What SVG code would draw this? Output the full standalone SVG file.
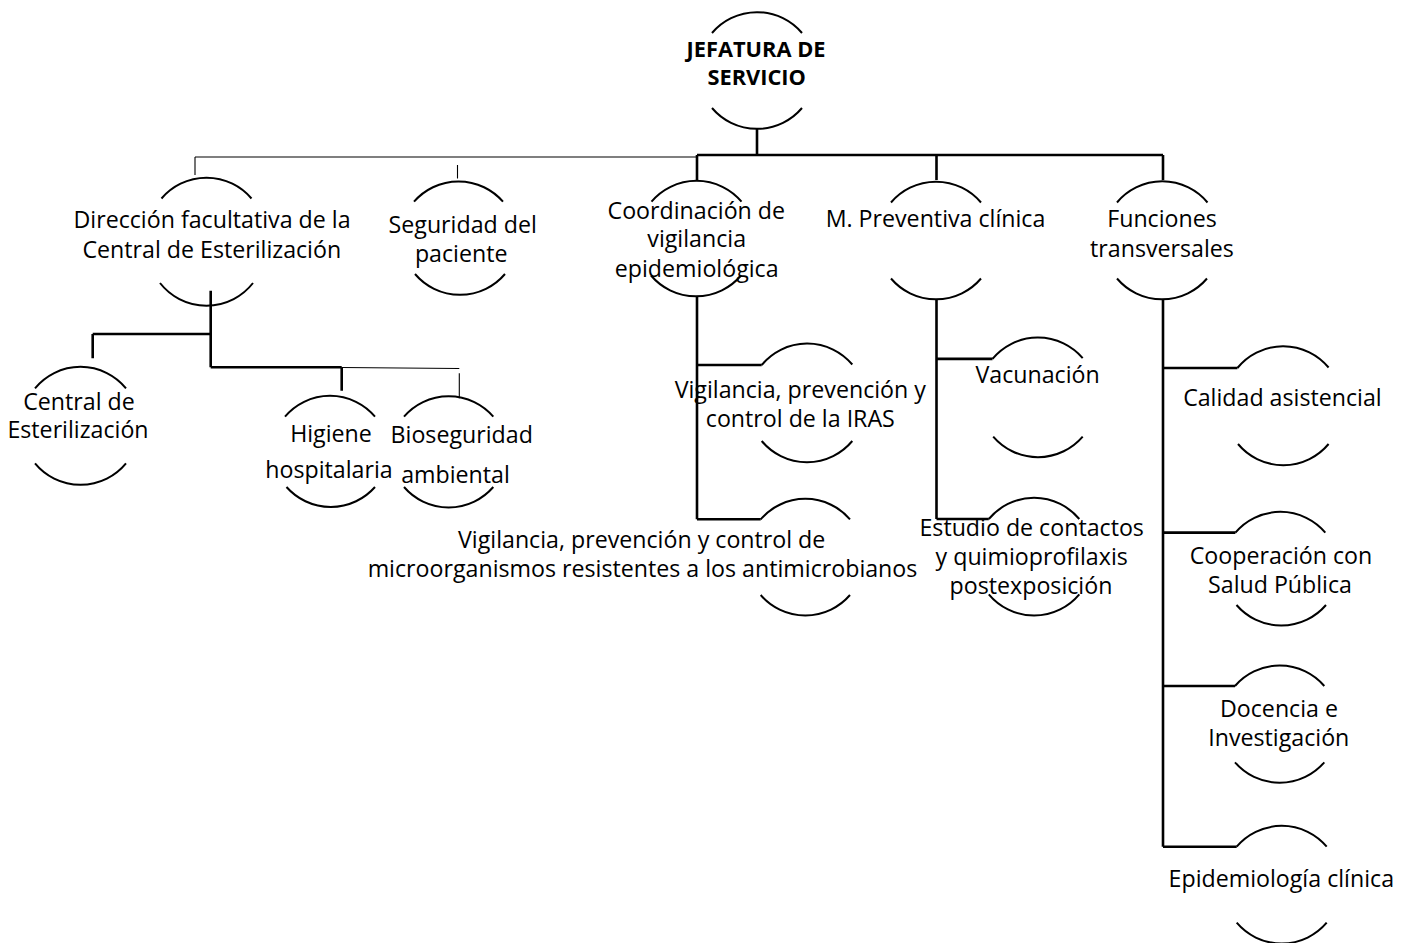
<svg xmlns="http://www.w3.org/2000/svg" width="1411" height="943" viewBox="0 0 1411 943">
<style>
  .arc { fill: none; stroke: #000; stroke-width: 2; }
  .thick { fill: none; stroke: #000; stroke-width: 2.6; }
  .thin { fill: none; stroke: #000; stroke-width: 1.1; }
  text { font-family: "Open Sans", "Noto Sans", "Liberation Sans", sans-serif; font-size: 23.2px; fill: #000; text-anchor: middle; }
  .bold { font-weight: bold; font-size: 21.8px; }
</style>
<rect width="1411" height="943" fill="#fff"/>
<g id="connectors">
  <path class="thick" d="M757 128 V155 M697 155 H1163 M697 155 V180 M936.5 155 V180 M1163 155 V180"/>
  <path class="thin" d="M195 157 H697 M195 157 V175 M457.5 165 V178.5"/>
  <path class="thick" d="M210.7 290.7 V367.3 M92.7 334 H210.7 M92.7 334 V358.3 M210.7 367.3 H341.7 M341.7 367.3 V390.7"/>
  <path class="thin" d="M341.7 367.5 L459.3 368.5 M459.3 373.3 V398.3"/>
  <path class="thick" d="M697 297 V519.3 M697 365 H761.7 M697 519.3 H760.7"/>
  <path class="thick" d="M936.5 299.5 V519 M936.5 358.9 H992.5 M936.5 519 H988.8"/>
  <path class="thick" d="M1163 299.5 V846.7 M1163 368 H1237.4 M1163 532.6 H1235.4 M1163 686 H1235 M1163 846.7 H1236.7"/>
</g>
<g id="n-jefatura">
  <path class="arc" d="M712 33 A59 59 0 0 1 802 33 M712 108 A59 59 0 0 0 802 108"/>
  <text class="bold" x="756" y="56.7">JEFATURA DE</text>
  <text class="bold" x="756.7" y="85">SERVICIO</text>
</g>
<g id="n-direccion">
  <path class="arc" d="M161.5 198.5 A59 59 0 0 1 251.5 198.5 M160 283 A59 59 0 0 0 253 283"/>
  <text x="212" y="228">Dirección facultativa de la</text>
  <text x="211.8" y="258.3">Central de Esterilización</text>
</g>
<g id="n-seguridad">
  <path class="arc" d="M414 201.7 A59 59 0 0 1 503 201.7 M415 274 A59 59 0 0 0 505 274"/>
  <text x="462.7" y="233.3">Seguridad del</text>
  <text x="461.2" y="261.7">paciente</text>
</g>
<g id="n-coordinacion">
  <path class="arc" d="M651.5 201.7 A59 59 0 0 1 741.5 201.7 M651 275.5 A59 59 0 0 0 741 275.5"/>
  <text x="696.3" y="219">Coordinación de</text>
  <text x="696.7" y="247.3">vigilancia</text>
  <text x="696.7" y="276.7">epidemiológica</text>
</g>
<g id="n-mpreventiva">
  <path class="arc" d="M891 202.5 A59 59 0 0 1 981 202.5 M891 278.5 A59 59 0 0 0 981 278.5"/>
  <text x="935.5" y="227.2">M. Preventiva clínica</text>
</g>
<g id="n-funciones">
  <path class="arc" d="M1117 202.5 A59 59 0 0 1 1207.5 202.5 M1117 278.5 A59 59 0 0 0 1207 278.5"/>
  <text x="1162" y="227.2">Funciones</text>
  <text x="1162" y="256.6">transversales</text>
</g>
<g id="n-central">
  <path class="arc" d="M35 388.3 A59 59 0 0 1 126 388.3 M35 463.3 A59 59 0 0 0 126 463.3"/>
  <text x="79" y="410">Central de</text>
  <text x="78" y="438.3">Esterilización</text>
</g>
<g id="n-higiene">
  <path class="arc" d="M285 416.7 A59 59 0 0 1 375 416.7 M286.5 487 A59 59 0 0 0 375 487"/>
  <text x="331" y="441.7">Higiene</text>
  <text x="329" y="478.3">hospitalaria</text>
</g>
<g id="n-bioseguridad">
  <path class="arc" d="M404 416.7 A59 59 0 0 1 493.3 416.7 M404 487 A59 59 0 0 0 493.3 487"/>
  <text x="461.7" y="442.7">Bioseguridad</text>
  <text x="455.5" y="483.3">ambiental</text>
</g>
<g id="n-iras">
  <path class="arc" d="M761.7 365 A59 59 0 0 1 852.3 364.5 M761.7 441 A59 59 0 0 0 852.3 441"/>
  <text x="800.3" y="398.3">Vigilancia, prevención y</text>
  <text x="800.3" y="426.7">control de la IRAS</text>
</g>
<g id="n-antimicrobianos">
  <path class="arc" d="M760.7 519.3 A59 59 0 0 1 850 519.3 M760.7 595 A59 59 0 0 0 850 595"/>
  <text x="641.7" y="548.3">Vigilancia, prevención y control de</text>
  <text x="642.5" y="576.7">microorganismos resistentes a los antimicrobianos</text>
</g>
<g id="n-vacunacion">
  <path class="arc" d="M992.5 358.9 A59 59 0 0 1 1082.7 358.2 M993.2 436.6 A59 59 0 0 0 1082.7 436.6"/>
  <text x="1037.6" y="382.6">Vacunación</text>
</g>
<g id="n-estudio">
  <path class="arc" d="M988.8 519 A59 59 0 0 1 1079.3 519 M988.8 594.4 A59 59 0 0 0 1079.3 594.4"/>
  <text x="1031.7" y="536">Estudio de contactos</text>
  <text x="1031.7" y="565">y quimioprofilaxis</text>
  <text x="1031" y="594.4">postexposición</text>
</g>
<g id="n-calidad">
  <path class="arc" d="M1237.4 368 A59 59 0 0 1 1328.6 367.5 M1238 444 A59 59 0 0 0 1328.6 444"/>
  <text x="1282.4" y="406.2">Calidad asistencial</text>
</g>
<g id="n-cooperacion">
  <path class="arc" d="M1235.4 532.6 A59 59 0 0 1 1325.3 532.6 M1236.5 605 A59 59 0 0 0 1326 605"/>
  <text x="1281" y="564.3">Cooperación con</text>
  <text x="1280" y="593">Salud Pública</text>
</g>
<g id="n-docencia">
  <path class="arc" d="M1235 686 A59 59 0 0 1 1324.3 686 M1235 762.3 A59 59 0 0 0 1324.3 762.3"/>
  <text x="1279" y="717.3">Docencia e</text>
  <text x="1278.8" y="745.7">Investigación</text>
</g>
<g id="n-epidemiologia">
  <path class="arc" d="M1236.7 846.7 A59 59 0 0 1 1326.7 846.7 M1236.7 922.7 A59 59 0 0 0 1326.7 922.7"/>
  <text x="1281.3" y="887.3">Epidemiología clínica</text>
</g>
</svg>
